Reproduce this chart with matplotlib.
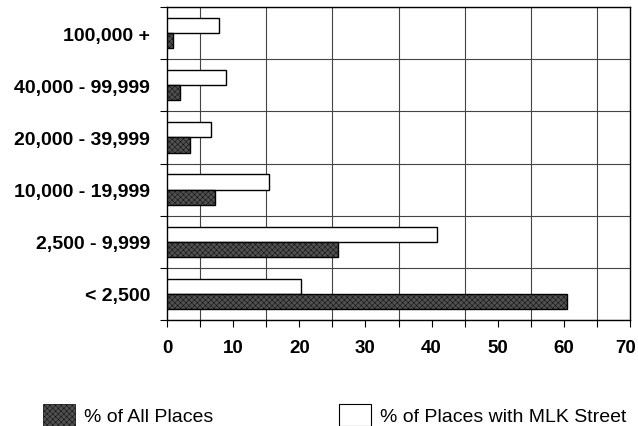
import matplotlib
matplotlib.use('Agg')
import matplotlib.pyplot as plt
import matplotlib.transforms as mtransforms
import numpy as np
from matplotlib.patches import Patch

plt.rcParams['font.family'] = ['Liberation Sans', 'DejaVu Sans']
plt.rcParams['hatch.linewidth'] = 0.3

# population size classes, top to bottom
sizes = ['100,000 +', '40,000 - 99,999', '20,000 - 39,999',
         '10,000 - 19,999', '2,500 - 9,999', '< 2,500']
all_places = [0.9, 2.0, 3.5, 7.2, 25.8, 60.4]
mlk_places = [7.8, 8.9, 6.6, 15.4, 40.8, 20.3]

fig = plt.figure(figsize=(6.38, 4.27), dpi=100)
ax = fig.add_axes([0.2618, 0.2482, 0.7257, 0.7331])

dark_fc = '#505050'
y = np.arange(len(sizes))
h = 0.29
ax.barh(y - h/2, mlk_places, height=h, color='white', edgecolor='black',
        linewidth=1.0, zorder=3)
ax.barh(y + h/2, all_places, height=h, color=dark_fc, edgecolor='black',
        linewidth=1.0, hatch='xxxxxx', zorder=3)

ax.set_ylim(len(sizes) - 0.5, -0.5)
ax.set_xlim(0, 70)
ax.set_yticks(y)
ax.set_yticklabels(sizes, fontsize=14, fontweight='bold')
ax.set_yticks(np.arange(-0.5, len(sizes)), minor=True)
ax.set_xticks(np.arange(0, 71, 10))
ax.set_xticklabels([str(v) for v in range(0, 71, 10)], fontsize=13.5,
                   fontweight='bold')
ax.set_xticks(np.arange(0, 71, 5), minor=True)

ax.tick_params(axis='y', which='major', length=0, pad=12)
ax.tick_params(axis='y', which='minor', length=5, width=0.8, direction='out')
ax.tick_params(axis='x', which='both', length=5, width=0.8, direction='out',
               pad=9)

# keep the last label inside the figure edge
last = ax.get_xticklabels()[-1]
last.set_transform(last.get_transform() +
                   mtransforms.ScaledTranslation(-3/72, 0, fig.dpi_scale_trans))

ax.grid(True, which='minor', color='#444444', linewidth=0.8, zorder=0)
ax.set_axisbelow(True)
for s in ax.spines.values():
    s.set_linewidth(1.0)

dark = Patch(facecolor=dark_fc, edgecolor='black', hatch='xxxxxx', linewidth=0.5)
light = Patch(facecolor='white', edgecolor='black', linewidth=0.8)
opts = dict(frameon=False, fontsize=14, handlelength=1.65, handleheight=1.4,
            handletextpad=0.46, borderpad=0, borderaxespad=0, loc='center left')
fig.legend(handles=[dark], labels=['% of All Places'],
           bbox_to_anchor=(0.067, 0.026), **opts)
fig.legend(handles=[light], labels=['% of Places with MLK Street'],
           bbox_to_anchor=(0.531, 0.026), **opts)

fig.savefig('out.png', dpi=100)
